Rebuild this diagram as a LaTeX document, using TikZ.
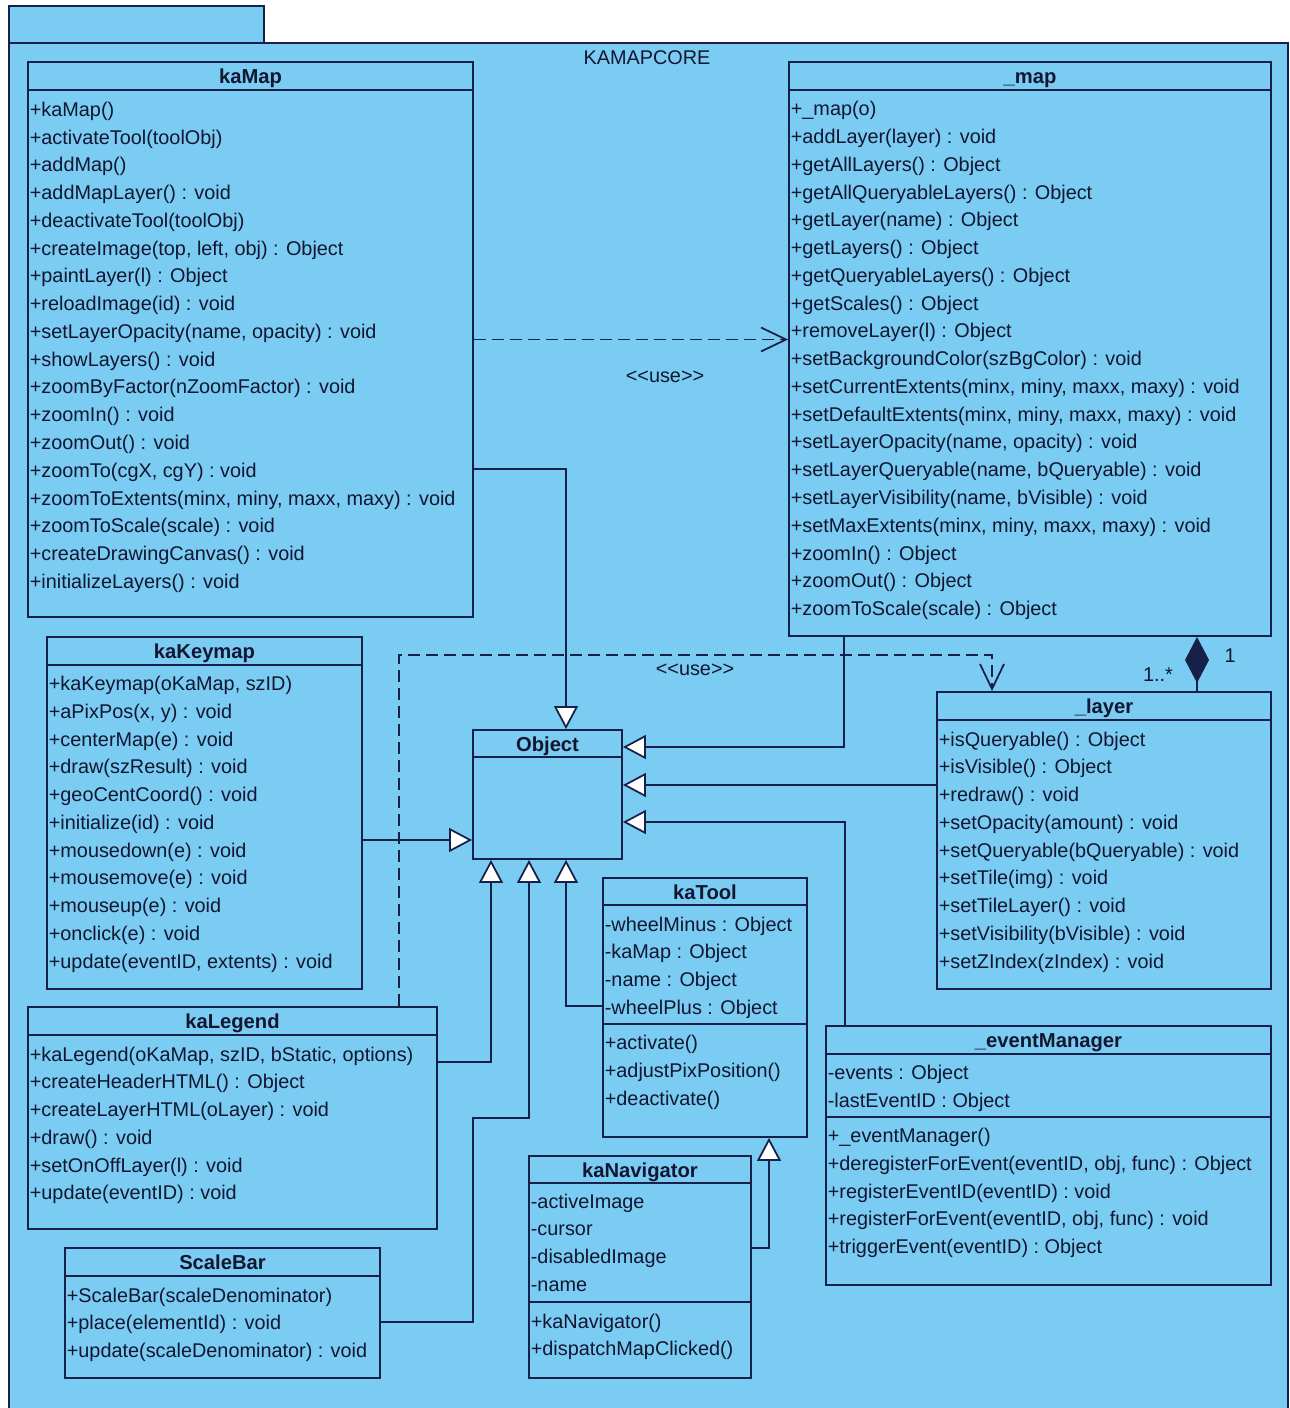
\documentclass[tikz,border=0pt]{standalone}
\usepackage{fontspec}
\newfontfamily\umlfont{Liberation Sans}
\usetikzlibrary{arrows.meta,fit}

\definecolor{pkgfill}{RGB}{122,204,242}
\definecolor{umlline}{RGB}{22,32,72}
\definecolor{umltext}{RGB}{18,22,48}

\tikzset{
  pkgbox/.style={draw=umlline, line width=1.1pt, fill=pkgfill, inner sep=0pt},
  classbox/.style={pkgbox},
  classname/.style={font=\umlfont\bfseries\fontsize{11.5}{14}\selectfont, text=umltext, anchor=base, inner sep=0pt},
  member/.style={font=\umlfont\fontsize{11.3}{14}\selectfont, text=umltext, anchor=base west, inner sep=0pt},
  lbl/.style={font=\umlfont\fontsize{11.3}{14}\selectfont, text=umltext, inner sep=0pt},
  sepline/.style={draw=umlline, line width=1.1pt},
  gen/.style={draw=umlline, line width=1pt, -{Triangle[length=0.46cm,width=0.48cm,fill=white]}},
  usedep/.style={draw=umlline, line width=1pt, dash pattern=on 0.24cm off 0.12cm, -{Straight Barb[length=0.5cm,width=0.48cm]}},
  comp/.style={draw=umlline, line width=1pt, {Diamond[length=0.92cm,width=0.48cm]}-},
}

\begin{document}
\begin{tikzpicture}[x=0.02cm, y=-0.02cm]
\useasboundingbox (0,0) rectangle (1289,1408);
\fill[white] (0,0) rectangle (1289,1408);

% package
\node[pkgbox, fit={(9,43) (1288,1440)}] (kamapcore) {};
\node[pkgbox, fit={(9,6) (264,43)}] (kamapcore-tab) {};
\node[lbl, anchor=base] (kamapcore-name) at (647,65) {KAMAPCORE};

% kaMap
\node[classbox, fit={(28,62) (473,617)}] (kamap) {};
\node[classname] (kamap-name) at (250.5,84) {kaMap};
\draw[sepline] (28,90) -- (473,90);
\foreach \m [count=\i from 0] in {{+kaMap()}, {+activateTool(toolObj)}, {+addMap()},
    {+addMapLayer() : void}, {+deactivateTool(toolObj)}, {+createImage(top, left, obj) : Object},
    {+paintLayer(l) : Object}, {+reloadImage(id) : void}, {+setLayerOpacity(name, opacity) : void},
    {+showLayers() : void}, {+zoomByFactor(nZoomFactor) : void}, {+zoomIn() : void},
    {+zoomOut() : void}, {+zoomTo(cgX, cgY) : void}, {+zoomToExtents(minx, miny, maxx, maxy) : void},
    {+zoomToScale(scale) : void}, {+createDrawingCanvas() : void}, {+initializeLayers() : void}}
  \node[member] (kamap-m\i) at (29.5,116.5+27.75*\i) {\m};

% _map
\node[classbox, fit={(789,62) (1271,636)}] (map) {};
\node[classname] (map-name) at (1030,84) {\_map};
\draw[sepline] (789,90) -- (1271,90);
\foreach \m [count=\i from 0] in {{+\_map(o)}, {+addLayer(layer) : void}, {+getAllLayers() : Object},
    {+getAllQueryableLayers() : Object}, {+getLayer(name) : Object}, {+getLayers() : Object},
    {+getQueryableLayers() : Object}, {+getScales() : Object}, {+removeLayer(l) : Object},
    {+setBackgroundColor(szBgColor) : void}, {+setCurrentExtents(minx, miny, maxx, maxy) : void},
    {+setDefaultExtents(minx, miny, maxx, maxy) : void}, {+setLayerOpacity(name, opacity) : void},
    {+setLayerQueryable(name, bQueryable) : void}, {+setLayerVisibility(name, bVisible) : void},
    {+setMaxExtents(minx, miny, maxx, maxy) : void}, {+zoomIn() : Object}, {+zoomOut() : Object},
    {+zoomToScale(scale) : Object}}
  \node[member] (map-m\i) at (790.5,116+27.75*\i) {\m};

% kaKeymap
\node[classbox, fit={(47,637) (362,989)}] (keymap) {};
\node[classname] (keymap-name) at (204.5,658) {kaKeymap};
\draw[sepline] (47,665) -- (362,665);
\foreach \m [count=\i from 0] in {{+kaKeymap(oKaMap, szID)}, {+aPixPos(x, y) : void}, {+centerMap(e) : void},
    {+draw(szResult) : void}, {+geoCentCoord() : void}, {+initialize(id) : void},
    {+mousedown(e) : void}, {+mousemove(e) : void}, {+mouseup(e) : void},
    {+onclick(e) : void}, {+update(eventID, extents) : void}}
  \node[member] (keymap-m\i) at (48.5,690.5+27.75*\i) {\m};

% Object
\node[classbox, fit={(473,730) (622,859)}] (object) {};
\node[classname] (object-name) at (547.5,751) {Object};
\draw[sepline] (473,757) -- (622,757);

% _layer
\node[classbox, fit={(937,692) (1271,989)}] (layer) {};
\node[classname] (layer-name) at (1104,713) {\_layer};
\draw[sepline] (937,720) -- (1271,720);
\foreach \m [count=\i from 0] in {{+isQueryable() : Object}, {+isVisible() : Object}, {+redraw() : void},
    {+setOpacity(amount) : void}, {+setQueryable(bQueryable) : void}, {+setTile(img) : void},
    {+setTileLayer() : void}, {+setVisibility(bVisible) : void}, {+setZIndex(zIndex) : void}}
  \node[member] (layer-m\i) at (938.5,746+27.75*\i) {\m};

% kaTool
\node[classbox, fit={(603,878) (807,1137)}] (katool) {};
\node[classname] (katool-name) at (705,899) {kaTool};
\draw[sepline] (603,905) -- (807,905);
\draw[sepline] (603,1024) -- (807,1024);
\foreach \m [count=\i from 0] in {{-wheelMinus : Object}, {-kaMap : Object}, {-name : Object}, {-wheelPlus : Object}}
  \node[member] (katool-a\i) at (604.5,931+27.75*\i) {\m};
\foreach \m [count=\i from 0] in {{+activate()}, {+adjustPixPosition()}, {+deactivate()}}
  \node[member] (katool-m\i) at (604.5,1049.5+27.75*\i) {\m};

% _eventManager
\node[classbox, fit={(826,1026) (1271,1285)}] (evmgr) {};
\node[classname] (evmgr-name) at (1048.5,1047) {\_eventManager};
\draw[sepline] (826,1054) -- (1271,1054);
\draw[sepline] (826,1117) -- (1271,1117);
\foreach \m [count=\i from 0] in {{-events : Object}, {-lastEventID : Object}}
  \node[member] (evmgr-a\i) at (827.5,1079.5+27.75*\i) {\m};
\foreach \m [count=\i from 0] in {{+\_eventManager()}, {+deregisterForEvent(eventID, obj, func) : Object},
    {+registerEventID(eventID) : void}, {+registerForEvent(eventID, obj, func) : void},
    {+triggerEvent(eventID) : Object}}
  \node[member] (evmgr-m\i) at (827.5,1142.5+27.75*\i) {\m};

% kaLegend
\node[classbox, fit={(28,1007) (437,1229)}] (legend) {};
\node[classname] (legend-name) at (232.5,1028) {kaLegend};
\draw[sepline] (28,1035) -- (437,1035);
\foreach \m [count=\i from 0] in {{+kaLegend(oKaMap, szID, bStatic, options)}, {+createHeaderHTML() : Object},
    {+createLayerHTML(oLayer) : void}, {+draw() : void}, {+setOnOffLayer(l) : void}, {+update(eventID) : void}}
  \node[member] (legend-m\i) at (29.5,1061+27.75*\i) {\m};

% ScaleBar
\node[classbox, fit={(65,1248) (380,1378)}] (scalebar) {};
\node[classname] (scalebar-name) at (222.5,1269) {ScaleBar};
\draw[sepline] (65,1276) -- (380,1276);
\foreach \m [count=\i from 0] in {{+ScaleBar(scaleDenominator)}, {+place(elementId) : void}, {+update(scaleDenominator) : void}}
  \node[member] (scalebar-m\i) at (66.5,1302+27.75*\i) {\m};

% kaNavigator
\node[classbox, fit={(529,1156) (751,1378)}] (kanav) {};
\node[classname] (kanav-name) at (640,1177) {kaNavigator};
\draw[sepline] (529,1183) -- (751,1183);
\draw[sepline] (529,1302) -- (751,1302);
\foreach \m [count=\i from 0] in {{-activeImage}, {-cursor}, {-disabledImage}, {-name}}
  \node[member] (kanav-a\i) at (530.5,1208+27.75*\i) {\m};
\foreach \m [count=\i from 0] in {{+kaNavigator()}, {+dispatchMapClicked()}}
  \node[member] (kanav-m\i) at (530.5,1328+27.75*\i) {\m};

% generalizations
\coordinate (kamap-obj) at (566,469);
\draw[gen] (kamap-obj -| kamap.east) -| (kamap-obj |- object.north);
\coordinate (map-obj) at (844,747);
\draw[gen] (map-obj |- map.south) |- (map-obj -| object.east);
\coordinate (layer-obj) at (0,785);
\draw[gen] (layer-obj -| layer.west) -- (layer-obj -| object.east);
\coordinate (evmgr-obj) at (845,822);
\draw[gen] (evmgr-obj |- evmgr.north) |- (evmgr-obj -| object.east);
\coordinate (keymap-obj) at (0,840);
\draw[gen] (keymap-obj -| keymap.east) -- (keymap-obj -| object.west);
\coordinate (legend-obj) at (491,1062);
\draw[gen] (legend-obj -| legend.east) -| (legend-obj |- object.south);
\coordinate (scalebar-obj) at (473,1322);
\coordinate (scalebar-obj2) at (529,1118);
\draw[gen] (scalebar-obj -| scalebar.east) -- (scalebar-obj) |- (scalebar-obj2) -- (scalebar-obj2 |- object.south);
\coordinate (katool-obj) at (566,1006);
\draw[gen] (katool-obj -| katool.west) -| (katool-obj |- object.south);
\coordinate (kanav-tool) at (769,1248);
\draw[gen] (kanav-tool -| kanav.east) -| (kanav-tool |- katool.south);

% dependencies
\draw[usedep] (kamap.east) -- (kamap.east -| map.west);
\node[lbl] (use-lbl1) at (665,377) {<<use>>};
\coordinate (legend-use1) at (399,655);
\coordinate (legend-use2) at (992,655);
\draw[usedep] (legend-use1 |- legend.north) -- (legend-use1) -- (legend-use2) -- (legend-use2 |- layer.north);
\node[lbl] (use-lbl2) at (695,670) {<<use>>};

% composition
\coordinate (map-layer) at (1197,0);
\draw[comp] (map-layer |- map.south) -- (map-layer |- layer.north);
\node[lbl] (comp-one) at (1230,656) {1};
\node[lbl] (comp-many) at (1158,675) {1..*};
\end{tikzpicture}
\end{document}
